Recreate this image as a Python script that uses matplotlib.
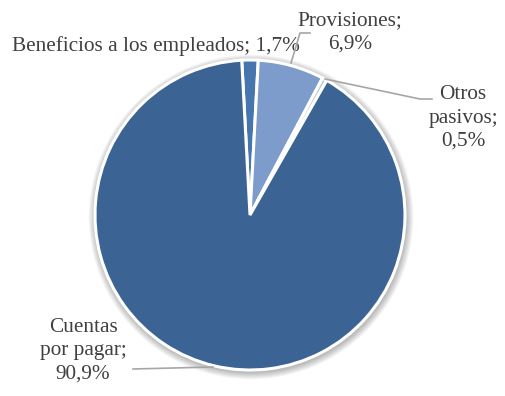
import matplotlib
matplotlib.use("Agg")
import matplotlib.pyplot as plt
from matplotlib.patches import Circle

# data (clockwise from 12 o'clock)
categories = ["Beneficios a los empleados", "Provisiones", "Otros pasivos", "Cuentas por pagar"]
values = [1.7, 6.9, 0.5, 90.9]
value_labels = ["1,7%", "6,9%", "0,5%", "90,9%"]
colors = ["#4775ad", "#7e9ccb", "#b9cae4", "#3b6394"]

plt.rcParams["font.family"] = ["Liberation Serif", "DejaVu Serif"]

W, H = 505, 396
fig = plt.figure(figsize=(W / 100, H / 100), dpi=100)
ax = fig.add_axes([0, 0, 1, 1])

cx, cy, r = 250, H - 215, 155

# soft shadow behind the pie
for k in range(8):
    ax.add_patch(Circle((cx + 1, cy - 2), r + 1 + k * 0.9, color="black",
                        alpha=0.035, lw=0, zorder=0))

start = 90 + values[0] * 3.6 / 2
ax.pie(values, colors=colors, startangle=start, counterclock=False,
       center=(cx, cy), radius=r, frame=True,
       wedgeprops=dict(edgecolor="white", linewidth=2.2))

ax.set_xlim(0, W)
ax.set_ylim(0, H)
ax.set_aspect("equal")
ax.axis("off")

tc = "#404040"
lc = "#a6a6a6"
fs = 15.3
ls = 1.3


def y(v):
    return H - v


# labels
ax.text(12, y(46), f"{categories[0]}; {value_labels[0]}", fontsize=fs, color=tc,
        ha="left", va="center")
ax.text(350, y(32), f"{categories[1]};\n{value_labels[1]}", fontsize=fs, color=tc,
        ha="center", va="center", linespacing=ls)
ax.text(463, y(118), "Otros\npasivos;\n" + value_labels[2], fontsize=fs, color=tc,
        ha="center", va="center", linespacing=ls)
ax.text(83, y(351), "Cuentas\npor pagar;\n" + value_labels[3], fontsize=fs, color=tc,
        ha="center", va="center", linespacing=ls)

# leader lines
ax.plot([291, 300, 310], [y(63), y(33), y(33)], color=lc, lw=1.2, zorder=5)
ax.plot([325, 420, 432], [y(79), y(99), y(99)], color=lc, lw=1.2, zorder=5)
ax.plot([213, 133], [y(367), y(369)], color=lc, lw=1.2, zorder=5)

fig.savefig("out.png", dpi=100)
